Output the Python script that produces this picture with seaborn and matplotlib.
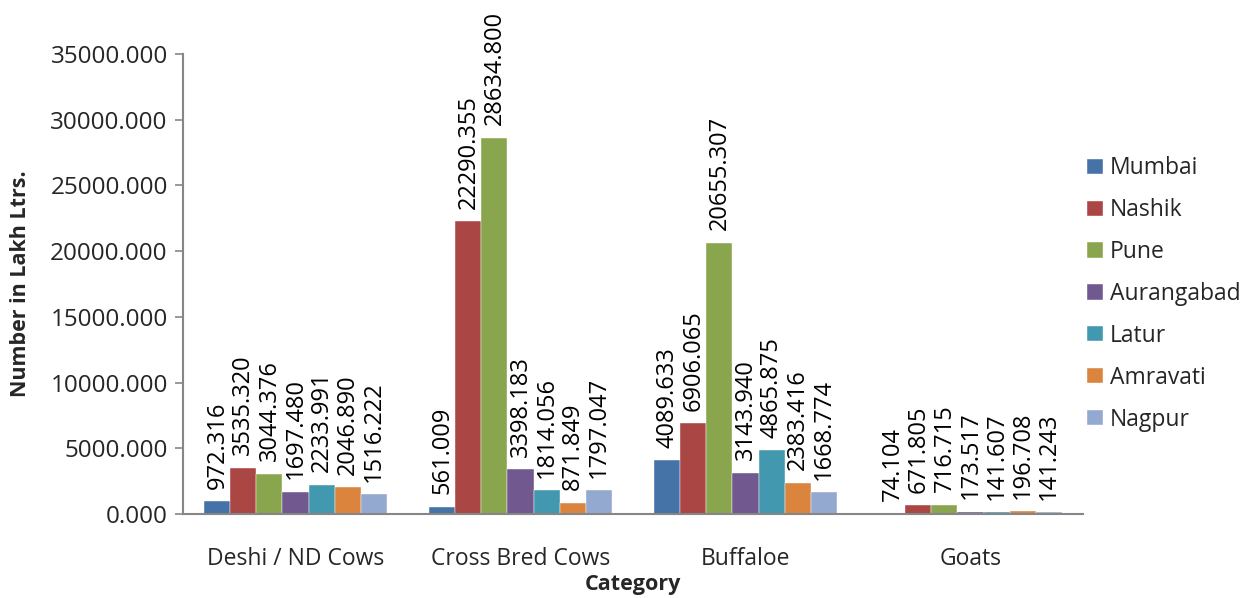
import pandas as pd
import matplotlib.pyplot as plt
import seaborn as sns

# Data (Lakh Ltrs.)
categories = ["Deshi / ND Cows", "Cross Bred Cows", "Buffaloe", "Goats"]
regions = ["Mumbai", "Nashik", "Pune", "Aurangabad", "Latur", "Amravati", "Nagpur"]
mumbai = [972.316, 561.009, 4089.633, 74.104]
nashik = [3535.320, 22290.355, 6906.065, 671.805]
pune = [3044.376, 28634.800, 20655.307, 716.715]
aurangabad = [1697.480, 3398.183, 3143.940, 173.517]
latur = [2233.991, 1814.056, 4865.875, 141.607]
amravati = [2046.890, 871.849, 2383.416, 196.708]
nagpur = [1516.222, 1797.047, 1668.774, 141.243]

colors = ["#4572A7", "#AA4643", "#89A54E", "#71588F", "#4198AF", "#DB843D", "#93A9CF"]

series = [mumbai, nashik, pune, aurangabad, latur, amravati, nagpur]
rows = []
for reg, vals in zip(regions, series):
    for cat, v in zip(categories, vals):
        rows.append({"Category": cat, "Region": reg, "Value": v})
df = pd.DataFrame(rows)

sns.set_style("white")
plt.rcParams["font.family"] = ["Open Sans", "DejaVu Sans"]

fig = plt.figure(figsize=(12.54, 5.98), dpi=100)
ax = fig.add_axes([183 / 1254, 1 - 514 / 598, 900 / 1254, 460 / 598])

sns.barplot(data=df, x="Category", y="Value", hue="Region", order=categories,
            hue_order=regions, palette=colors, width=0.81, gap=0,
            edgecolor="white", linewidth=0.3, saturation=1, ax=ax, legend=True)

for cont in ax.containers:
    ax.bar_label(cont, fmt="%.3f", rotation=90, padding=9, fontsize=17, color="black")

ax.set_ylim(0, 35000)
ax.set_yticks(range(0, 35001, 5000))
ax.set_yticklabels([f"{t:.3f}" for t in range(0, 35001, 5000)], fontsize=17.5)
ax.tick_params(axis="y", length=6, width=1.2, color="#868686", direction="out", pad=5, left=True)
ax.tick_params(axis="x", length=0, labelsize=16.5, pad=24)

for side in ["top", "right"]:
    ax.spines[side].set_visible(False)
for side in ["left", "bottom"]:
    ax.spines[side].set_color("#868686")
    ax.spines[side].set_linewidth(1.5)

ax.set_xlabel("Category", fontsize=15.5, fontweight="bold", labelpad=2)
ax.set_ylabel("Number in Lakh Ltrs.", fontsize=15.5, fontweight="bold", labelpad=14)

handles, labels = ax.get_legend_handles_labels()
ax.get_legend().remove()
fig.legend(handles, labels, loc="center left", bbox_to_anchor=(1066 / 1254, 1 - 294 / 598),
           frameon=False, fontsize=16.5, handlelength=0.7, handleheight=0.65,
           handletextpad=0.3, labelspacing=0.78)

fig.savefig("out.png", dpi=100)
